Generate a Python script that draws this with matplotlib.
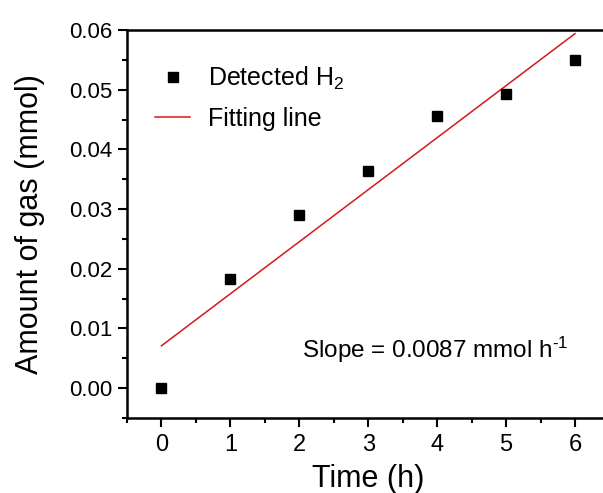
import matplotlib
matplotlib.use("Agg")
import matplotlib.pyplot as plt
from matplotlib.ticker import MultipleLocator

plt.rcParams['font.family'] = ['Liberation Sans', 'DejaVu Sans']
plt.rcParams['mathtext.fontset'] = 'custom'
plt.rcParams['mathtext.rm'] = 'Liberation Sans'
plt.rcParams['mathtext.default'] = 'regular'

time_h = [0, 1, 2, 3, 4, 5, 6]
h2_mmol = [0.0000, 0.0183, 0.0290, 0.0363, 0.0456, 0.0492, 0.0549]
fit_x = [0, 6]
fit_y = [0.0071, 0.0594]
xtick_vals = [0, 1, 2, 3, 4, 5, 6]
ytick_vals = [0.00, 0.01, 0.02, 0.03, 0.04, 0.05, 0.06]
ytick_labels = ['0.00', '0.01', '0.02', '0.03', '0.04', '0.05', '0.06']

W, H = 603, 493
fig = plt.figure(figsize=(W / 100, H / 100), dpi=100)
ax = fig.add_axes([127 / W, 75 / H, 482.5 / W, 388 / H])

ax.plot(time_h, h2_mmol, 's', color='black', markersize=6.5, label='Detected H$_2$',
        clip_on=False, zorder=3)
ax.plot(fit_x, fit_y, '-', color='#d81818', linewidth=1.1, label='Fitting line')

ax.set_xlim(-0.5, 6.5)
ax.set_ylim(-0.005, 0.06)
ax.set_xticks(xtick_vals)
ax.set_yticks(ytick_vals)
ax.set_yticklabels(ytick_labels)
ax.xaxis.set_minor_locator(MultipleLocator(0.5))
ax.yaxis.set_minor_locator(MultipleLocator(0.005))
ax.tick_params(axis='both', which='major', direction='out', length=6.5, width=1.5, pad=4)
ax.tick_params(axis='y', which='major', labelsize=16)
ax.tick_params(axis='x', which='major', labelsize=17, pad=5)
ax.tick_params(axis='both', which='minor', direction='out', length=3.5, width=1.5)
for s in ax.spines.values():
    s.set_linewidth(1.8)

ax.set_xlabel('Time (h)', fontsize=22, labelpad=6)
ax.set_ylabel('Amount of gas (mmol)', fontsize=22, labelpad=17)

ax.legend(loc='upper left', bbox_to_anchor=(28 / 482.5, (428 - 75) / 388), frameon=False,
          fontsize=18, handlelength=1.4, handletextpad=0.7, labelspacing=0.6,
          borderaxespad=0.0, borderpad=0.0)

fig.text(302 / W, (H - 350) / H, 'Slope = 0.0087 mmol h$^{\u20101}$', fontsize=17.5,
         ha='left', va='center')

fig.savefig('out.png', dpi=100)
